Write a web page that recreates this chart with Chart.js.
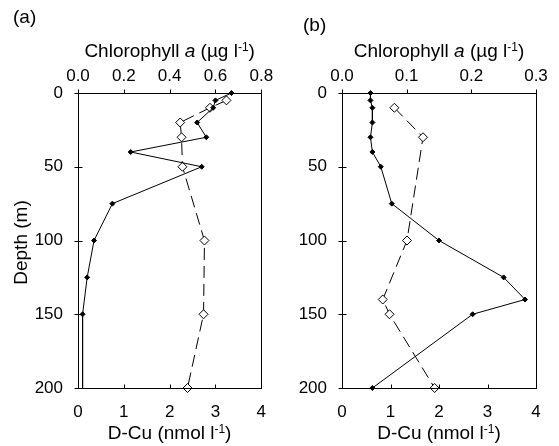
<!DOCTYPE html>
<html>
<head>
<meta charset="utf-8">
<script src="https://cdn.jsdelivr.net/npm/chart.js@4.4.0/dist/chart.umd.min.js"></script>
<style>
body { margin: 0; background: #fff; }
#wrap { position: relative; width: 559px; height: 446px; }
canvas { position: absolute; top: 0; }
.lab { position: absolute; font: 19px Arial, 'Liberation Sans', sans-serif; color: #000; line-height: normal; }
</style>
</head>
<body>
<div id="wrap">
  <canvas id="panelA" width="280" height="446" style="left:0px;width:280px;height:446px"></canvas>
  <canvas id="panelB" width="279" height="446" style="left:280px;width:279px;height:446px"></canvas>
  <div class="lab" style="left:13px;top:6px">(a)</div>
  <div class="lab" style="left:303px;top:14px">(b)</div>
</div>
<script>
// panel (a)
const depthChlA = [0, 5, 10, 20, 30, 40, 50, 75, 100, 125, 150, 200];
const chlA = [0.67, 0.60, 0.59, 0.52, 0.56, 0.23, 0.54, 0.15, 0.07, 0.04, 0.02, 0.02];
const depthCuA = [5, 10, 20, 30, 50, 100, 150, 200];
const cuA = [3.24, 2.88, 2.23, 2.26, 2.28, 2.76, 2.74, 2.39];

// panel (b)
const depthChlB = [0, 5, 10, 20, 30, 40, 50, 75, 100, 125, 140, 150, 200];
const chlB = [0.044, 0.044, 0.047, 0.047, 0.044, 0.047, 0.060, 0.077, 0.150, 0.250, 0.283, 0.202, 0.047];
const depthCuB = [10, 30, 100, 140, 150, 200];
const cuB = [1.08, 1.67, 1.34, 0.84, 0.98, 1.91];

const depthTicks = [0, 50, 100, 150, 200];
const cuTicks = [0, 1, 2, 3, 4];

const FONT = "Arial, 'Liberation Sans', sans-serif";

function toPoints(xs, ys) {
    return xs.map(function(v, i) { return {x: v, y: ys[i]}; });
}

// draws a title made of pieces (normal / italic / superscript)
function drawPieces(ctx, pieces, cx, cy) {
    let total = 0;
    pieces.forEach(function(p) {
        ctx.font = (p.italic ? 'italic ' : '') + (p.sup ? '12px ' : '19px ') + FONT;
        p.w = ctx.measureText(p.t).width;
        total += p.w;
    });
    let x = cx - total / 2;
    pieces.forEach(function(p) {
        ctx.font = (p.italic ? 'italic ' : '') + (p.sup ? '12px ' : '19px ') + FONT;
        ctx.fillText(p.t, x, p.sup ? cy - 6 : cy);
        x += p.w;
    });
}

const framePlugin = {
    id: 'frame',
    afterDraw: function(chart) {
        const ctx = chart.ctx;
        const a = chart.chartArea;
        const l = Math.round(a.left) + 0.5, r = Math.round(a.right) + 0.5;
        const t = Math.round(a.top) + 0.5, b = Math.round(a.bottom) + 0.5;
        ctx.save();
        ctx.strokeStyle = '#000';
        ctx.lineWidth = 1;
        ctx.strokeRect(l, t, r - l, b - t);
        ctx.beginPath();
        const yS = chart.scales.y, top = chart.scales.xTop, bot = chart.scales.xBot;
        yS.ticks.forEach(function(tk) {
            const py = Math.round(yS.getPixelForValue(tk.value)) + 0.5;
            ctx.moveTo(l - 4, py); ctx.lineTo(l + 4, py);
        });
        top.ticks.forEach(function(tk) {
            const px = Math.round(top.getPixelForValue(tk.value)) + 0.5;
            ctx.moveTo(px, t - 4); ctx.lineTo(px, t);
        });
        bot.ticks.forEach(function(tk) {
            const px = Math.round(bot.getPixelForValue(tk.value)) + 0.5;
            ctx.moveTo(px, b - 4); ctx.lineTo(px, b);
        });
        ctx.stroke();

        ctx.fillStyle = '#000';
        ctx.textBaseline = 'alphabetic';
        ctx.textAlign = 'left';
        const cx = (a.left + a.right) / 2;
        drawPieces(ctx, [{t: 'Chlorophyll '}, {t: 'a', italic: true}, {t: ' (\u00b5g l'}, {t: '-1', sup: true}, {t: ')'}], cx, 57);
        drawPieces(ctx, [{t: 'D-Cu (nmol l'}, {t: '-1', sup: true}, {t: ')'}], cx, 439);
        if (chart.options.plugins.frame.depthTitle) {
            ctx.translate(27, (a.top + a.bottom) / 2 + 2);
            ctx.rotate(-Math.PI / 2);
            ctx.textAlign = 'center';
            ctx.font = '19px ' + FONT;
            ctx.fillText('Depth (m)', 0, 0);
        }
        ctx.restore();
    }
};

function makePanel(id, chlPts, cuPts, chlMax, chlStep, yWidth, padRight, depthTitle, hideLastChlMarker) {
    const tickFont = {family: FONT, size: 17};
    return new Chart(document.getElementById(id), {
        type: 'scatter',
        data: {
            datasets: [{
                label: 'Chlorophyll a',
                data: chlPts,
                xAxisID: 'xTop',
                showLine: true,
                borderColor: '#000',
                borderWidth: 1,
                pointStyle: 'rectRot',
                pointRadius: function(c) {
                    return (hideLastChlMarker && c.dataIndex === chlPts.length - 1) ? 0 : 2.5;
                },
                pointBackgroundColor: '#000',
                pointBorderColor: '#000',
                pointBorderWidth: 1,
                clip: false,
                order: 1
            }, {
                label: 'D-Cu',
                data: cuPts,
                xAxisID: 'xBot',
                showLine: true,
                borderColor: '#000',
                borderWidth: 1,
                borderDash: [12, 6],
                pointStyle: 'rectRot',
                pointRadius: 4.5,
                pointBackgroundColor: '#fff',
                pointBorderColor: '#000',
                pointBorderWidth: 1,
                clip: false,
                order: 2
            }]
        },
        options: {
            responsive: false,
            animation: false,
            layout: {padding: {left: 0, right: padRight, top: 0, bottom: 0}},
            plugins: {
                legend: {display: false},
                tooltip: {enabled: false},
                frame: {depthTitle: depthTitle}
            },
            scales: {
                y: {
                    type: 'linear', position: 'left', reverse: true, min: 0, max: 200,
                    afterBuildTicks: function(s) { s.ticks = depthTicks.map(function(v) { return {value: v}; }); },
                    ticks: {padding: 15, color: '#000', font: tickFont},
                    grid: {display: false, drawTicks: false},
                    border: {display: false},
                    afterFit: function(s) { s.width = yWidth; }
                },
                xTop: {
                    type: 'linear', position: 'top', min: 0, max: chlMax,
                    ticks: {stepSize: chlStep, padding: 6, color: '#000', font: tickFont,
                        callback: function(v) { return v.toFixed(1); }},
                    grid: {display: false, drawTicks: false},
                    border: {display: false},
                    afterFit: function(s) { s.height = 93; }
                },
                xBot: {
                    type: 'linear', position: 'bottom', min: 0, max: 4,
                    afterBuildTicks: function(s) { s.ticks = cuTicks.map(function(v) { return {value: v}; }); },
                    ticks: {padding: 14, color: '#000', font: tickFont},
                    grid: {display: false, drawTicks: false},
                    border: {display: false},
                    afterFit: function(s) { s.height = 58; }
                }
            }
        },
        plugins: [framePlugin]
    });
}

makePanel('panelA', toPoints(chlA, depthChlA), toPoints(cuA, depthCuA), 0.8, 0.2, 78, 8, true, true);
makePanel('panelB', toPoints(chlB, depthChlB), toPoints(cuB, depthCuB), 0.3, 0.1, 62, 23, false, false);
</script>
</body>
</html>
